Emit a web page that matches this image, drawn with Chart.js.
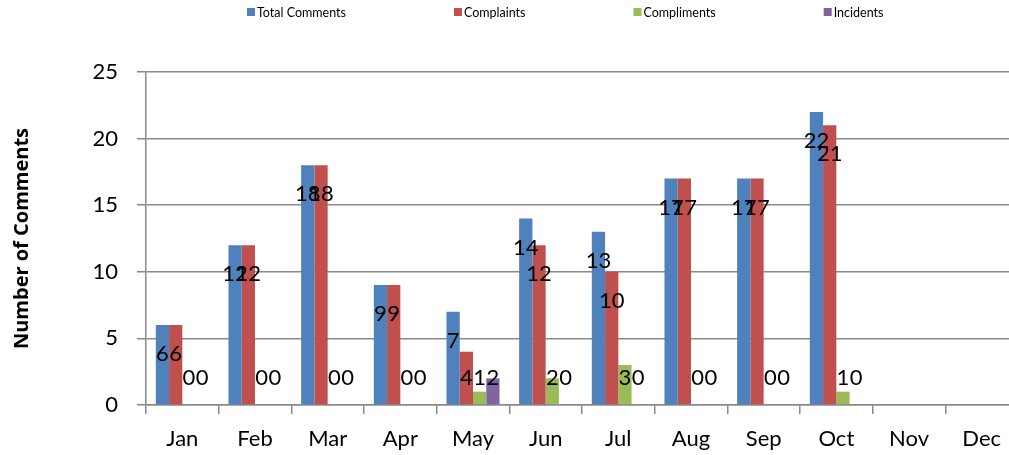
<!DOCTYPE html>
<html>
<head>
<meta charset="utf-8">
<script src="https://cdn.jsdelivr.net/npm/chart.js@4.4.1/dist/chart.umd.min.js"></script>
<style>
  html, body { margin: 0; padding: 0; background: #fff; overflow: hidden; }
  #wrap { width: 1018px; height: 455px; }
</style>
</head>
<body>
<div id="wrap"><canvas id="commentsChart" width="1018" height="455"></canvas></div>
<script>
// --- data ---
const months = ['Jan', 'Feb', 'Mar', 'Apr', 'May', 'Jun', 'Jul', 'Aug', 'Sep', 'Oct', 'Nov', 'Dec'];
const totalComments = [6, 12, 18, 9, 7, 14, 13, 17, 17, 22, null, null];
const complaints    = [6, 12, 18, 9, 4, 12, 10, 17, 17, 21, null, null];
const compliments   = [0, 0, 0, 0, 1, 2, 3, 0, 0, 1, null, null];
const incidents     = [0, 0, 0, 0, 2, 0, 0, 0, 0, 0, null, null];
const yTicks = [0, 5, 10, 15, 20, 25];

const FONT = 'Lato, "Open Sans", sans-serif';
const GRID = '#8a8a8a';

// legend across the top, Excel style (small square + label, wide gaps)
const topLegend = {
    id: 'topLegend',
    afterDraw(chart) {
        const ctx = chart.ctx;
        ctx.save();
        ctx.font = '12.5px ' + FONT;
        ctx.textBaseline = 'middle';
        let x = 247;
        chart.data.datasets.forEach(ds => {
            ctx.fillStyle = ds.backgroundColor;
            ctx.fillRect(x, 8, 8, 8);
            ctx.fillStyle = '#000';
            ctx.fillText(ds.label, x + 10, 12.5);
            x += 10 + ctx.measureText(ds.label).width + 108;
        });
        ctx.restore();
    }
};

// value labels: just inside the top of each bar, held above the baseline
const barValues = {
    id: 'barValues',
    afterDatasetsDraw(chart) {
        const ctx = chart.ctx;
        const base = chart.scales.y.getPixelForValue(0);
        ctx.save();
        ctx.font = '22px ' + FONT;
        ctx.fillStyle = '#000';
        ctx.textAlign = 'center';
        ctx.textBaseline = 'middle';
        chart.data.datasets.forEach((ds, i) => {
            chart.getDatasetMeta(i).data.forEach((bar, j) => {
                const v = ds.data[j];
                if (v === null || v === undefined) return;
                const y = Math.min(bar.y + 29, base - 27);
                ctx.fillText(String(v), bar.x, y);
            });
        });
        ctx.restore();
    }
};

const ctx = document.getElementById('commentsChart').getContext('2d');
new Chart(ctx, {
    type: 'bar',
    data: {
        labels: months,
        datasets: [
            { label: 'Total Comments', data: totalComments, backgroundColor: '#4F81BD' },
            { label: 'Complaints', data: complaints, backgroundColor: '#C0504D' },
            { label: 'Compliments', data: compliments, backgroundColor: '#9BBB59' },
            { label: 'Incidents', data: incidents, backgroundColor: '#8064A2' }
        ]
    },
    options: {
        responsive: false,
        animation: false,
        layout: { padding: { top: 72, right: 0, bottom: 0, left: 0 } },
        datasets: { bar: { categoryPercentage: 0.73, barPercentage: 1.0, borderWidth: 0 } },
        plugins: { legend: { display: false }, tooltip: { enabled: false } },
        scales: {
            x: {
                grid: { offset: true, drawOnChartArea: false, drawTicks: true, tickLength: 9, color: GRID, lineWidth: 1.5 },
                border: { color: GRID, width: 1.5 },
                ticks: { font: { family: FONT, size: 22 }, color: '#000', padding: 12, maxRotation: 0 },
                afterFit: s => { s.height = 50; }
            },
            y: {
                min: 0, max: 25,
                afterBuildTicks: s => { s.ticks = yTicks.map(v => ({ value: v })); },
                grid: { color: GRID, lineWidth: 1.5, tickLength: 9 },
                border: { color: GRID, width: 1.5 },
                ticks: { font: { family: FONT, size: 22 }, color: '#000', padding: 19 },
                title: {
                    display: true, text: 'Number of Comments', color: '#000',
                    font: { family: '"Open Sans", sans-serif', size: 20, weight: 'bold' },
                    padding: { top: 10, bottom: 0 }
                },
                afterFit: s => { s.width = 146; }
            }
        }
    },
    plugins: [topLegend, barValues]
});
</script>
</body>
</html>
